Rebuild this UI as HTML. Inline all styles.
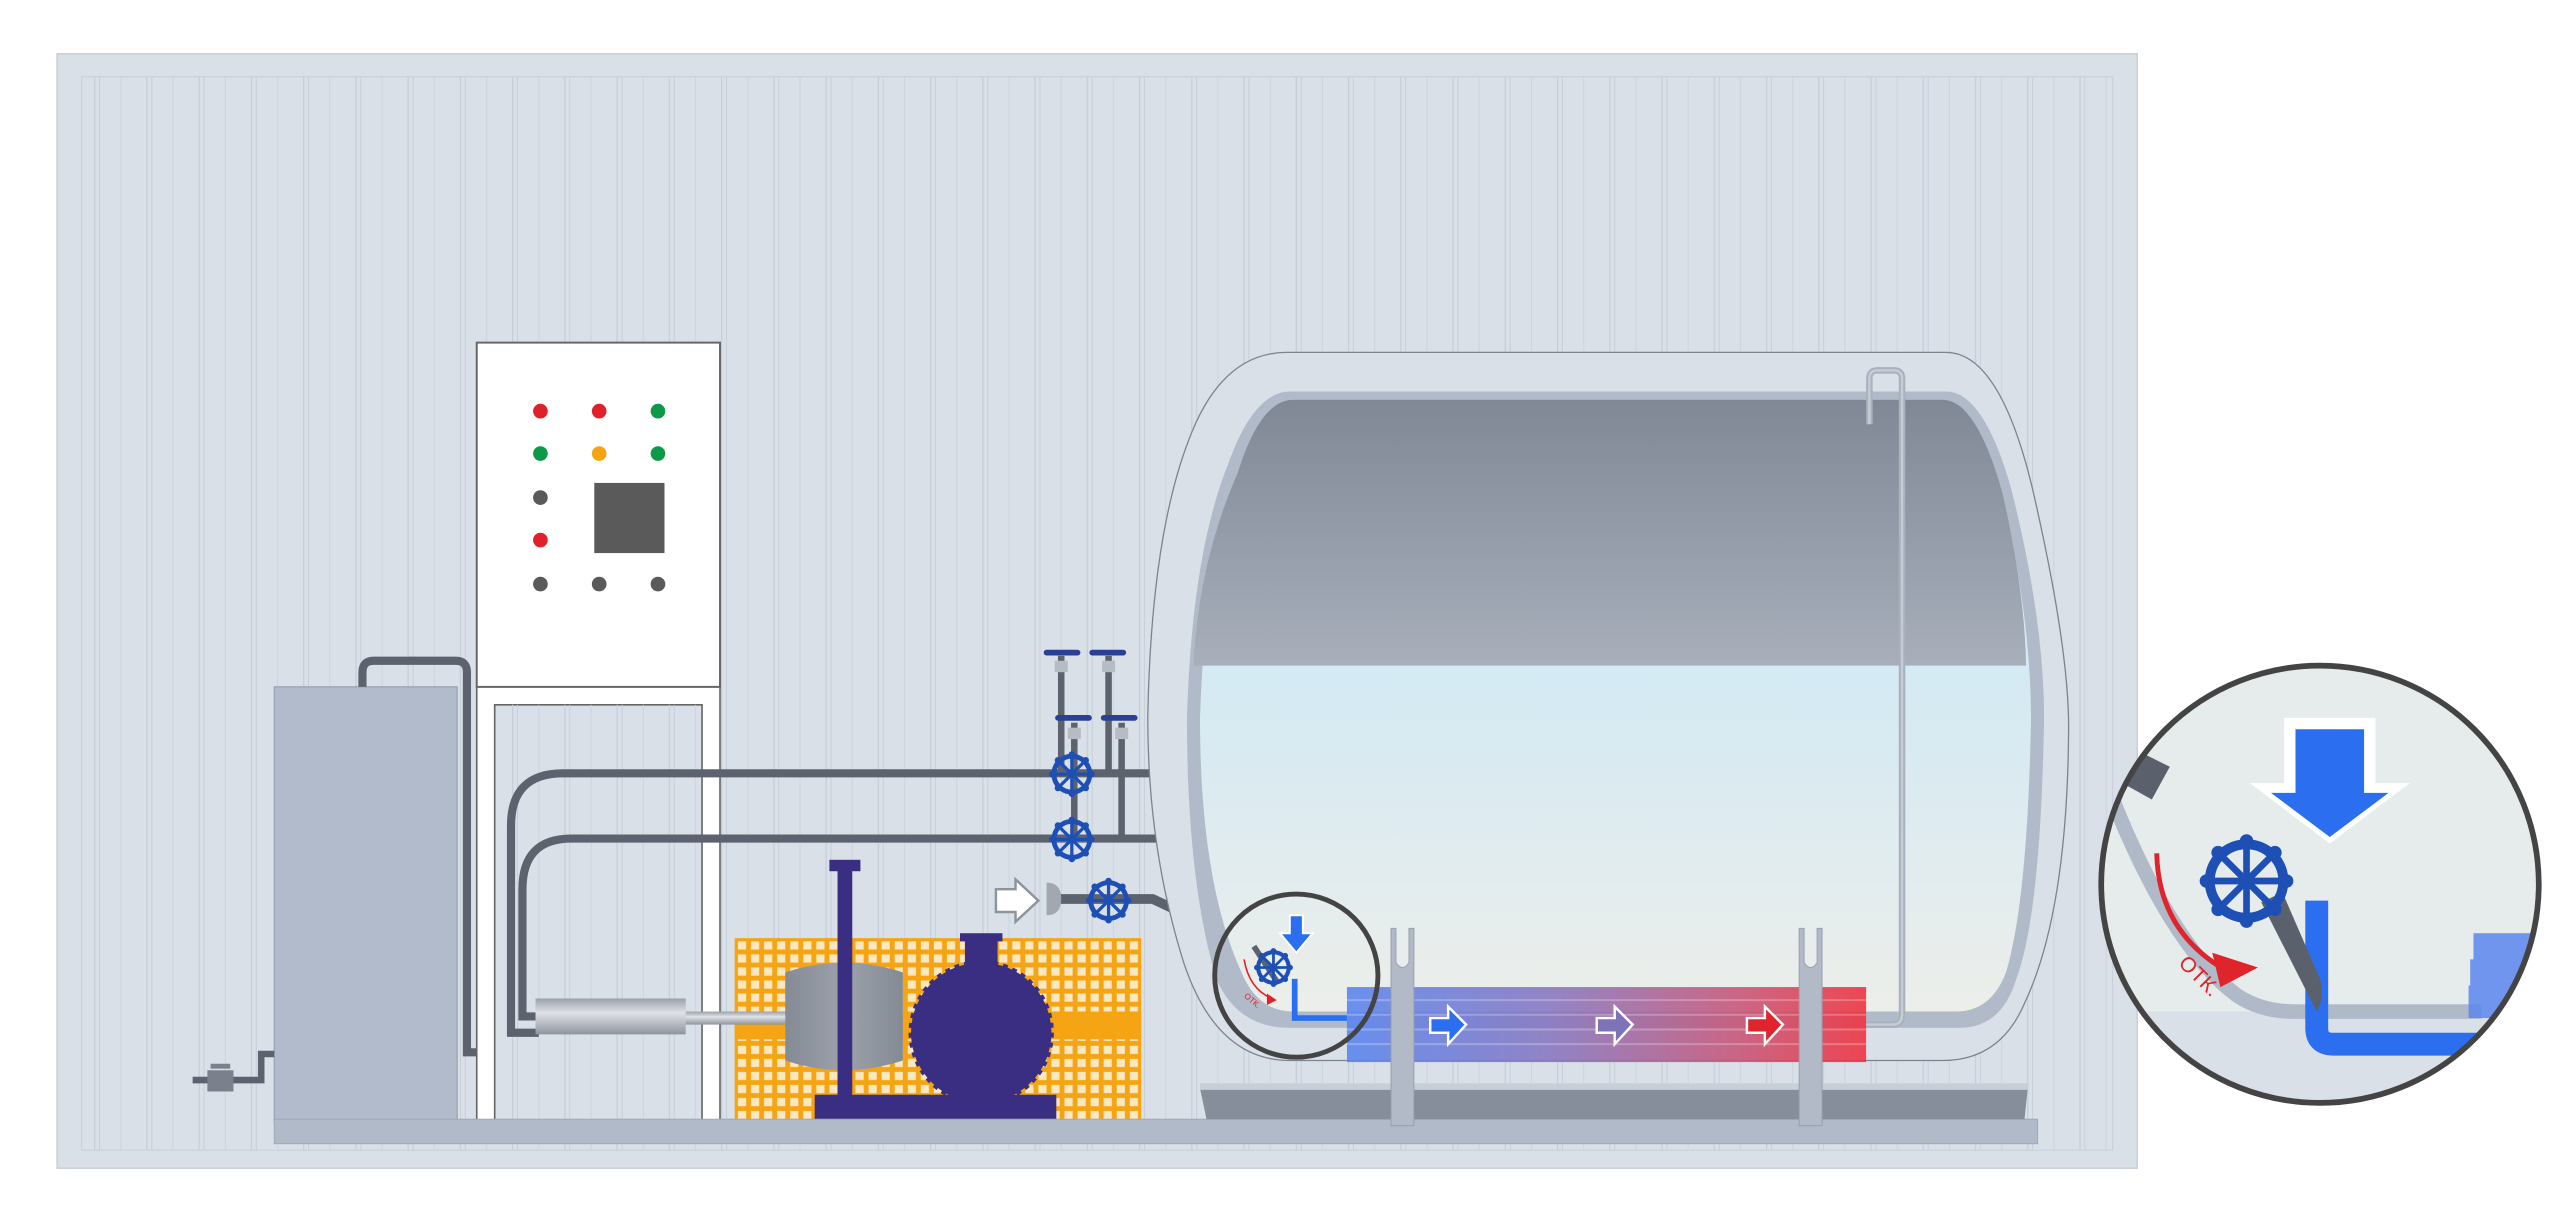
<!DOCTYPE html>
<html><head><meta charset="utf-8"><style>html,body{margin:0;padding:0;background:#fff}svg{display:block}</style></head>
<body>
<svg width="2560" height="1222" viewBox="0 0 1568 749" preserveAspectRatio="none" xmlns="http://www.w3.org/2000/svg">
<defs>
<pattern id="wall" x="50" y="0" width="32" height="749" patternUnits="userSpaceOnUse">
<line x1="8" y1="0" x2="8" y2="749" stroke="#c6ceda" stroke-width="0.8"/>
<line x1="11" y1="0" x2="11" y2="749" stroke="#c6ceda" stroke-width="0.6"/>
<line x1="24" y1="0" x2="24" y2="749" stroke="#ccd3de" stroke-width="0.6"/>
</pattern>
<pattern id="grid" x="450" y="575" width="8" height="8" patternUnits="userSpaceOnUse">
<rect width="8" height="8" fill="#f5a413"/><rect x="2" y="2" width="5" height="5" fill="#fbe7c0"/>
</pattern>
<linearGradient id="top" x1="0" y1="0" x2="0" y2="1"><stop offset="0" stop-color="#808896"/><stop offset="1" stop-color="#a8afbb"/></linearGradient>
<linearGradient id="water" x1="0" y1="0" x2="0" y2="1"><stop offset="0" stop-color="#c2e8fa"/><stop offset="0.55" stop-color="#d8eaf2"/><stop offset="1" stop-color="#eceeea"/></linearGradient>
<linearGradient id="heat" x1="0" y1="0" x2="1" y2="0"><stop offset="0" stop-color="#5b86ef"/><stop offset="0.4" stop-color="#8a78c0"/><stop offset="0.75" stop-color="#c7587a"/><stop offset="1" stop-color="#ee3440"/></linearGradient>
<linearGradient id="cyl" x1="0" y1="0" x2="0" y2="1"><stop offset="0" stop-color="#9aa0aa"/><stop offset="0.4" stop-color="#dfe2e6"/><stop offset="1" stop-color="#8e949e"/></linearGradient>
<linearGradient id="pm" x1="0" y1="0" x2="1" y2="0"><stop offset="0" stop-color="#858b95"/><stop offset="0.5" stop-color="#9ca1aa"/><stop offset="1" stop-color="#858b95"/></linearGradient>
<clipPath id="bigc"><circle cx="1421" cy="542" r="133"/></clipPath>
<g id="wh">
<circle r="11" fill="none" stroke="#1d4fb5" stroke-width="3"/>
<g stroke="#1d4fb5" stroke-width="2"><line x1="-12" y1="0" x2="12" y2="0"/><line x1="0" y1="-12" x2="0" y2="12"/><line x1="-8.5" y1="-8.5" x2="8.5" y2="8.5"/><line x1="-8.5" y1="8.5" x2="8.5" y2="-8.5"/></g>
<g fill="#1d4fb5"><circle cx="0" cy="-12" r="2"/><circle cx="0" cy="12" r="2"/><circle cx="12" cy="0" r="2"/><circle cx="-12" cy="0" r="2"/><circle cx="8.5" cy="8.5" r="2"/><circle cx="-8.5" cy="8.5" r="2"/><circle cx="8.5" cy="-8.5" r="2"/><circle cx="-8.5" cy="-8.5" r="2"/></g>
</g>
</defs>
<rect width="1568" height="749" fill="#fff"/>
<rect x="35" y="33" width="1274" height="683" fill="#d9e0e8" stroke="#c9d0da"/>
<rect x="50" y="47" width="1244" height="658" fill="url(#wall)" stroke="#cbd2dc" stroke-width="0.8"/>

<rect x="168" y="421" width="112" height="267" fill="#b1bbcb" stroke="#9aa4b4" stroke-width="0.8"/>
<path d="M222,421 V412 Q222,405 229,405 H279 Q286,405 286,412 V645 H372 V637" fill="none" stroke="#5c636e" stroke-width="5"/>
<path d="M118,662 H160 V646 H168" fill="none" stroke="#5c636e" stroke-width="4"/>
<rect x="127" y="656" width="16" height="13" fill="#7a818c"/><rect x="129" y="652" width="12" height="3" fill="#7a818c"/>

<rect x="292" y="421" width="149" height="266" fill="#fff" stroke="#666" stroke-width="1"/>
<rect x="303" y="432" width="127" height="255" fill="#d9e0e8" stroke="#666" stroke-width="1"/>
<rect x="303" y="432" width="127" height="255" fill="url(#wall)"/>
<rect x="292" y="210" width="149" height="211" fill="#fff" stroke="#666" stroke-width="1.2"/>
<g>
<circle cx="331" cy="252" r="4.5" fill="#e0202a"/><circle cx="367" cy="252" r="4.5" fill="#e0202a"/><circle cx="403" cy="252" r="4.5" fill="#0d9a48"/>
<circle cx="331" cy="278" r="4.5" fill="#0d9a48"/><circle cx="367" cy="278" r="4.5" fill="#f4a412"/><circle cx="403" cy="278" r="4.5" fill="#0d9a48"/>
<circle cx="331" cy="305" r="4.5" fill="#5a5a5a"/><circle cx="331" cy="331" r="4.5" fill="#e0202a"/>
<circle cx="331" cy="358" r="4.5" fill="#5a5a5a"/><circle cx="367" cy="358" r="4.5" fill="#5a5a5a"/><circle cx="403" cy="358" r="4.5" fill="#5a5a5a"/>
<rect x="364" y="296" width="43" height="43" fill="#5a5a5a"/>
</g>

<path d="M712,474 H345 Q313,474 313,506 V633 H330" fill="none" stroke="#5c636e" stroke-width="5"/>
<path d="M715,514 H350 Q320,514 320,545 V623 H330" fill="none" stroke="#5c636e" stroke-width="5"/>
<g stroke="#5c636e" stroke-width="4"><line x1="650" y1="402" x2="650" y2="474"/><line x1="679" y1="402" x2="679" y2="474"/><line x1="658" y1="443" x2="658" y2="514"/><line x1="687" y1="443" x2="687" y2="514"/></g>
<g fill="#b7bcc4"><rect x="646" y="405" width="8" height="7"/><rect x="675" y="405" width="8" height="7"/><rect x="654" y="446" width="8" height="7"/><rect x="683" y="446" width="8" height="7"/></g>
<g stroke="#2a3f96" stroke-width="3.5" stroke-linecap="round"><line x1="641" y1="400" x2="660" y2="400"/><line x1="669" y1="400" x2="688" y2="400"/><line x1="648" y1="440" x2="667" y2="440"/><line x1="676" y1="440" x2="695" y2="440"/></g>
<use href="#wh" x="656.5" y="474.5"/>
<use href="#wh" x="656.5" y="514.5"/>
<path d="M645,551 H706 L768,580" fill="none" stroke="#5c636e" stroke-width="6"/>
<path d="M641,541 Q650,541 650,551 Q650,561 641,561 Z" fill="#a3a8b0"/>
<path d="M610,545 H622 V539 L636,552 L622,565 V559 H610 Z" fill="#fff" stroke="#8e949c" stroke-width="1.5"/>
<use href="#wh" x="679" y="552"/>

<rect x="450" y="575" width="249" height="112" fill="url(#grid)"/>
<rect x="450" y="620" width="249" height="17" fill="#f5a413"/>
<rect x="328" y="612" width="92" height="22" fill="url(#cyl)"/>
<rect x="420" y="620" width="65" height="8" fill="url(#cyl)"/>
<path d="M481,596 Q517,584 553,596 V650 Q517,662 481,650 Z" fill="url(#pm)"/>
<rect x="513" y="530" width="9" height="156" fill="#3a2e82"/>
<rect x="508" y="527" width="19" height="7" fill="#3a2e82"/>
<rect x="499" y="671" width="148" height="16" fill="#3a2e82"/>
<rect x="591" y="575" width="20" height="30" fill="#3a2e82"/>
<rect x="588" y="572" width="26" height="5" fill="#3a2e82"/>
<circle cx="601" cy="633" r="43" fill="#3a2e82" stroke="#3a2e82" stroke-width="3" stroke-dasharray="3 3"/>

<rect x="168" y="686" width="1080" height="15" fill="#b1bac8" stroke="#9ea8b7" stroke-width="0.6"/>

<path d="M788,216 H1192 Q1225,216 1245,300 Q1268,400 1267,450 Q1266,560 1240,615 Q1225,650 1190,650 H790 Q745,650 725,590 Q703,520 703,440 Q705,330 728,270 Q748,216 788,216 Z" fill="#d9e0e8" stroke="#7c848f" stroke-width="0.8"/>
<path d="M790,240 H1192 Q1215,240 1232,300 Q1252,380 1252,440 Q1250,560 1235,600 Q1226,630 1200,630 H790 Q758,630 745,600 Q727,540 727,440 Q730,340 752,285 Q768,240 790,240 Z" fill="#b1bac8"/>
<path d="M792,245 H1190 Q1210,245 1226,300 Q1244,380 1244,440 Q1242,550 1229,595 Q1220,620 1198,620 H792 Q770,620 760,595 Q735,540 735,440 Q738,345 758,290 Q772,245 792,245 Z" fill="url(#water)"/>
<path d="M792,245 H1190 Q1210,245 1226,300 Q1240,360 1241,408 H731 Q734,345 758,290 Q772,245 792,245 Z" fill="url(#top)"/>
<path d="M1145,260 V232 Q1145,227 1150,227 H1160 Q1165,227 1165,232 V622 Q1165,628 1159,628 H1143" fill="none" stroke="#a9b1be" stroke-width="4"/>
<path d="M1145,260 V232 Q1145,227 1150,227 H1160 Q1165,227 1165,232 V622 Q1165,628 1159,628 H1143" fill="none" stroke="#c6ccd6" stroke-width="1.5"/>

<path d="M735,667 H1242 L1240,686 H739 Z" fill="#878e9b"/>
<rect x="735" y="664" width="507" height="4" fill="#c9cfd8"/>

<rect x="825" y="605" width="318" height="46" fill="url(#heat)" opacity="0.9"/>
<g stroke="#fff" stroke-opacity="0.25" stroke-width="1.2"><line x1="825" y1="613" x2="1143" y2="613"/><line x1="825" y1="622" x2="1143" y2="622"/><line x1="825" y1="631" x2="1143" y2="631"/><line x1="825" y1="640" x2="1143" y2="640"/></g>
<g fill="#b2bac7" stroke="#97a0ae" stroke-width="0.6">
<path d="M852,569 H855 V590 Q859,596 863,590 V569 H866 V690 H852 Z"/>
<path d="M1102,569 H1105 V590 Q1109,596 1113,590 V569 H1116 V690 H1102 Z"/>
</g>
<path d="M876,624 H887 V617 L898,628 L887,640 V633 H876 Z" fill="#2b6ef0" stroke="#fff" stroke-width="1.5"/>
<path d="M978,624 H989 V617 L1000,628 L989,640 V633 H978 Z" fill="#7e72b8" stroke="#fff" stroke-width="1.5"/>
<path d="M1070,624 H1081 V617 L1092,628 L1081,640 V633 H1070 Z" fill="#e0242c" stroke="#fff" stroke-width="1.5"/>

<line x1="768" y1="580" x2="783" y2="603" stroke="#5c636e" stroke-width="3.5"/>
<path d="M793,600 V624 H825" fill="none" stroke="#2b6ef0" stroke-width="3.5"/>
<path d="M790,561 H798 V572 H804 L794,584 L784,572 H790 Z" fill="#2b6ef0" stroke="#fff" stroke-width="1.2"/>
<g transform="translate(780,593) scale(0.85)"><use href="#wh"/></g>
<path d="M762,588 Q765,606 779,612" fill="none" stroke="#e0242c" stroke-width="1"/>
<path d="M776,609 L782,613 L776,616 Z" fill="#e0242c"/>
<text x="762" y="614" font-family="Liberation Sans, sans-serif" font-size="5" fill="#e0242c" transform="rotate(40 766 612)">ОТК.</text>
<circle cx="794" cy="598" r="50" fill="none" stroke="#444" stroke-width="3"/>

<circle cx="1421" cy="542" r="134" fill="#e6ebec"/>
<g clip-path="url(#bigc)">
<rect x="1286" y="620" width="280" height="60" fill="#d9e0e8"/>
<path d="M1294,490 Q1330,580 1370,610 Q1385,620 1405,620 H1520" fill="none" stroke="#b0b9c8" stroke-width="9"/>
<path d="M1300,480 L1318,490 L1329,470 L1313,462 Z" fill="#5a616c"/>
<path d="M1419,552 V630 Q1419,640 1429,640 H1520" fill="none" stroke="#2b6ef0" stroke-width="14"/>
<g fill="#5b86ef" opacity="0.85"><rect x="1515" y="572" width="40" height="18"/><rect x="1513" y="588" width="42" height="18"/><rect x="1512" y="604" width="42" height="20"/></g>
<path d="M1385,553 L1398,547 L1421,600 Q1424,612 1419,620 Z" fill="#5a616c"/>
<path d="M1399,440 H1455 V480 H1476 L1427,517 L1378,480 H1399 Z" fill="#fff"/>
<path d="M1406,447 H1448 V486 H1463 L1427,513 L1391,486 H1406 Z" fill="#2b6ef0"/>
<g transform="translate(1376,540) scale(2.05)"><use href="#wh"/></g>
<path d="M1321,523 Q1322,570 1362,594" fill="none" stroke="#e0242c" stroke-width="3"/>
<path d="M1355,584 L1383,593 L1360,605 Z" fill="#e0242c"/>
<text x="1330" y="596" font-family="Liberation Sans, sans-serif" font-size="13" fill="#e0242c" transform="rotate(45 1338 598)">ОТК.</text>
</g>
<circle cx="1421" cy="542" r="134" fill="none" stroke="#444" stroke-width="3.5"/>
</svg>
</body></html>
